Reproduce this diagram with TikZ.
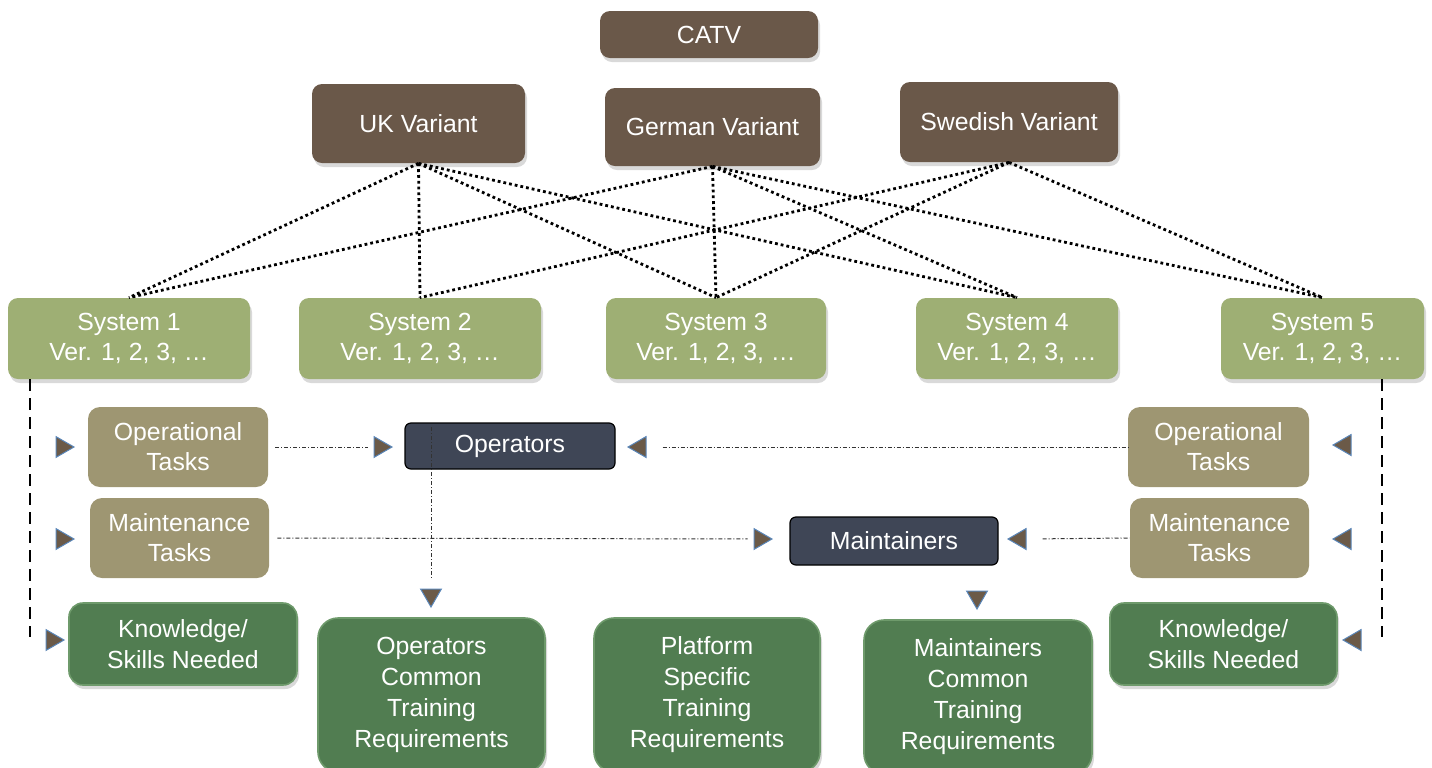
\documentclass[tikz,border=0pt]{standalone}
\usepackage{fontspec}
\setmainfont{Liberation Sans}
\usetikzlibrary{shapes.geometric,shadows,calc}
\definecolor{brownbox}{HTML}{6A5849}
\definecolor{sysgreen}{HTML}{9EAF74}
\definecolor{taskkhaki}{HTML}{9E9672}
\definecolor{roleslate}{HTML}{3F4656}
\definecolor{reqgreen}{HTML}{517D51}
\definecolor{reqedge}{HTML}{6E9A6B}
\definecolor{arrowbrown}{HTML}{6B5A48}
\definecolor{arrowblue}{HTML}{5A86B8}
\tikzset{
 box/.style={rounded corners=5pt, text=white, align=center, inner sep=0pt, font=\fontsize{12.4pt}{15pt}\selectfont},
 sz/.style 2 args={minimum width=#1*0.5pt, minimum height=#2*0.5pt},
 shad/.style={drop shadow={shadow xshift=1pt,shadow yshift=-2pt,opacity=0.3}},
 variant/.style={box, shad, fill=brownbox},
 sys/.style={box, shad, fill=sysgreen},
 task/.style={box, fill=taskkhaki, rounded corners=6pt},
 role/.style={box, fill=roleslate, draw=black, line width=0.6pt, rounded corners=3pt},
 req/.style={box, shad, fill=reqgreen, draw=reqedge, line width=0.8pt, rounded corners=10pt, font=\fontsize{12.4pt}{15.5pt}\selectfont},
 tri/.style={regular polygon, regular polygon sides=3, fill=arrowbrown, draw=arrowblue, line width=0.5pt, minimum size=12pt, inner sep=0pt},
 link/.style={line width=1.4pt, dash pattern=on 1.4pt off 1.5pt},
 flow/.style={line width=0.5pt, dash pattern=on 2pt off 1pt on 0.5pt off 1pt, draw=black!80},
 vdash/.style={line width=1.2pt, dash pattern=on 6pt off 3.5pt},
}
\begin{document}
\begin{tikzpicture}[x=0.5pt,y=-0.5pt]
\useasboundingbox (0,0) rectangle (1432,767);
\clip (0,0) rectangle (1432,767);
% top level
\node[variant, sz={218}{47}] (catv) at (709,34.5) {CATV};
\node[variant, sz={213}{79}] (uk) at (418.5,123.5) {UK Variant};
\node[variant, sz={215}{78}] (de) at (712.5,127) {German Variant};
\node[variant, sz={218}{80}] (se) at (1009,122) {Swedish Variant};
% systems
\node[sys, sz={242}{81}] (s1) at (129,338.5) {System 1\\Ver. 1, 2, 3, …};
\node[sys, sz={242}{81}] (s2) at (420,338.5) {System 2\\Ver. 1, 2, 3, …};
\node[sys, sz={220}{81}] (s3) at (716,338.5) {System 3\\Ver. 1, 2, 3, …};
\node[sys, sz={202}{81}] (s4) at (1017,338.5) {System 4\\Ver. 1, 2, 3, …};
\node[sys, sz={203}{81}] (s5) at (1322.5,338.5) {System 5\\Ver. 1, 2, 3, …};
% variant-system links
\draw[link] (uk.south) -- (s1.north);
\draw[link] (uk.south) -- (s2.north);
\draw[link] (uk.south) -- (s3.north);
\draw[link] (uk.south) -- (s4.north);
\draw[link] (de.south) -- (s1.north);
\draw[link] (de.south) -- (s3.north);
\draw[link] (de.south) -- (s4.north);
\draw[link] (de.south) -- (s5.north);
\draw[link] (se.south) -- (s2.north);
\draw[link] (se.south) -- (s3.north);
\draw[link] (se.south) -- (s5.north);
% tasks
\node[task, sz={180}{80}] (opsL) at (178,447) {Operational\\Tasks};
\node[task, sz={179}{80}] (mntL) at (179.5,538) {Maintenance\\Tasks};
\node[task, sz={181}{80}] (opsR) at (1218.5,447) {Operational\\Tasks};
\node[task, sz={179}{80}] (mntR) at (1219.5,538) {Maintenance\\Tasks};
% knowledge
\node[req, rounded corners=7pt, sz={228}{82}] (knL) at (183,644) {Knowledge/\\Skills Needed};
\node[req, rounded corners=7pt, sz={227}{82}] (knR) at (1223.5,644) {Knowledge/\\Skills Needed};
% roles
\node[role, sz={210}{46}] (ops) at (510,446) {Operators};
\node[role, sz={208}{48}] (mnt) at (894,541) {Maintainers};
% requirement boxes
\node[req, sz={227}{154}] (opc) at (431.5,695) {Operators\\Common\\Training\\Requirements};
\node[req, sz={226}{154}] (pst) at (707,695) {Platform\\Specific\\Training\\Requirements};
\node[req, sz={228}{154}] (mnc) at (978,697) {Maintainers\\Common\\Training\\Requirements};
% side triangles
\node[tri, shape border rotate=-90] (tl1) at (62,447) {};
\node[tri, shape border rotate=-90] (tl2) at (62,539) {};
\node[tri, shape border rotate=-90] (tl3) at (52,640) {};
\node[tri, shape border rotate=90] (tr1) at (1345,445) {};
\node[tri, shape border rotate=90] (tr2) at (1345,539) {};
\node[tri, shape border rotate=90] (tr3) at (1355,640) {};
% middle triangles
\node[tri, shape border rotate=-90] (ta) at (380,447) {};
\node[tri, shape border rotate=90] (tb) at (640,447) {};
\node[tri, shape border rotate=-90] (tc) at (760,539) {};
\node[tri, shape border rotate=90] (td) at (1020,539) {};
\node[tri, shape border rotate=180] (te) at (431,595) {};
\node[tri, shape border rotate=180] (tf) at (977,597) {};
% dashed side lines
\coordinate (dl1) at (30,379);
\coordinate (dl2) at (30,637);
\coordinate (dr1) at (1382,379);
\coordinate (dr2) at (1382,637);
\draw[vdash] (dl1) -- (dl2);
\draw[vdash] (dr1) -- (dr2);
% flow lines
\draw[flow, shorten <=3.5pt, shorten >=3pt] (opsL.east) -- (ta.west);
\draw[flow, shorten <=8pt] (tb.east) -- (opsR.west);
\draw[flow, shorten <=4pt, shorten >=3pt] (mntL.east) -- (tc.west);
\draw[flow, shorten <=8pt] (td.east) -- (mntR.west);
\coordinate (opsTap) at (431,427);
\coordinate (opsEnd) at (431,580);
\draw[flow] (opsTap) -- (opsEnd);
\end{tikzpicture}
\end{document}
